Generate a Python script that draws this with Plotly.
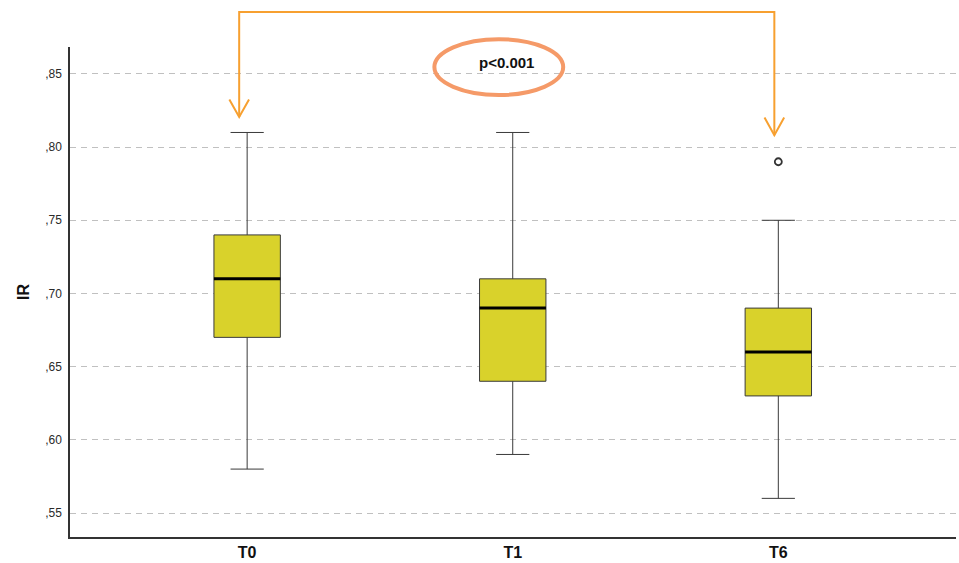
import plotly.graph_objects as go

categories = ["T0", "T1", "T6"]
q1 = [0.67, 0.64, 0.63]
median = [0.71, 0.69, 0.66]
q3 = [0.74, 0.71, 0.69]
lower_whisker = [0.58, 0.59, 0.56]
upper_whisker = [0.81, 0.81, 0.75]
outlier_x = ["T6"]
outlier_y = [0.79]
y_ticks = [0.55, 0.60, 0.65, 0.70, 0.75, 0.80, 0.85]
y_tick_labels = [",55", ",60", ",65", ",70", ",75", ",80", ",85"]
p_text = "p<0.001"
compare_pair = [0, 2]

BOX_W = 0.25
fig = go.Figure()
fig.add_trace(go.Box(
    x=categories, q1=q1, median=median, q3=q3,
    lowerfence=lower_whisker, upperfence=upper_whisker,
    fillcolor="#D9D22B", line=dict(color="#3a3a3a", width=1),
    width=BOX_W, whiskerwidth=0.5, boxpoints=False, showlegend=False,
    hoverinfo="skip",
))
fig.add_trace(go.Scatter(
    x=outlier_x, y=outlier_y, mode="markers",
    marker=dict(symbol="circle-open", size=7, color="#333333", line=dict(width=1.8)),
    showlegend=False, hoverinfo="skip",
))

shapes = []
# thick median lines
for i, m in enumerate(median):
    shapes.append(dict(type="line", xref="x", yref="y", x0=i - BOX_W / 2, x1=i + BOX_W / 2,
                       y0=m, y1=m, line=dict(color="#000000", width=3), layer="above"))

# bracket with open arrowheads
orange = "#F7A030"
xa, xb = compare_pair
top = 1.0714
tip_a = 0.857
tip_b = 0.820
shapes.append(dict(type="path", xref="x", yref="paper",
                   path=f"M {xa - 0.03},{tip_a} L {xa - 0.03},{top} L {xb - 0.015},{top} L {xb - 0.015},{tip_b}",
                   line=dict(color=orange, width=2)))
dx, dy = 0.037, 0.036
for x, t in [(xa - 0.03, tip_a), (xb - 0.015, tip_b)]:
    shapes.append(dict(type="path", xref="x", yref="paper",
                       path=f"M {x - dx},{t + dy} L {x},{t} L {x + dx},{t + dy}",
                       line=dict(color=orange, width=2)))
# ellipse around p-value
shapes.append(dict(type="circle", xref="x", yref="paper", x0=0.705, x1=1.19, y0=0.902, y1=1.016,
                   line=dict(color="#F59A68", width=4)))

fig.update_layout(
    width=959, height=563,
    margin=dict(l=70, r=3, t=47, b=26),
    plot_bgcolor="white", paper_bgcolor="white",
    font=dict(family="Liberation Sans, Arial, sans-serif", color="#222222"),
    shapes=shapes,
    annotations=[dict(text=f"<b>{p_text}</b>", xref="x", yref="paper", x=0.977, y=0.969,
                      xanchor="center", yanchor="middle",
                      showarrow=False, font=dict(size=15, color="#111111"))],
    xaxis=dict(range=[-0.667, 2.669], showgrid=False, showline=True, linecolor="#333333",
               linewidth=1.5, ticks="", tickfont=dict(size=16, color="#111111", weight="bold"),
               zeroline=False, fixedrange=True),
    yaxis=dict(range=[0.5336, 0.8684], tickvals=y_ticks, ticktext=y_tick_labels,
               showgrid=True, gridcolor="#c0c0c0", gridwidth=1, griddash="6px,5px",
               showline=True, linecolor="#333333", linewidth=1.5, ticks="",
               tickfont=dict(size=12, color="#2a2a2a"), ticklabelstandoff=4,
               title=dict(text="<b>IR</b>", font=dict(size=16, color="#111111"), standoff=12),
               zeroline=False, fixedrange=True),
)
fig.write_html("out.html", config={"displayModeBar": False},
               post_script="document.body.style.margin='0px';document.body.style.overflow='hidden';")
